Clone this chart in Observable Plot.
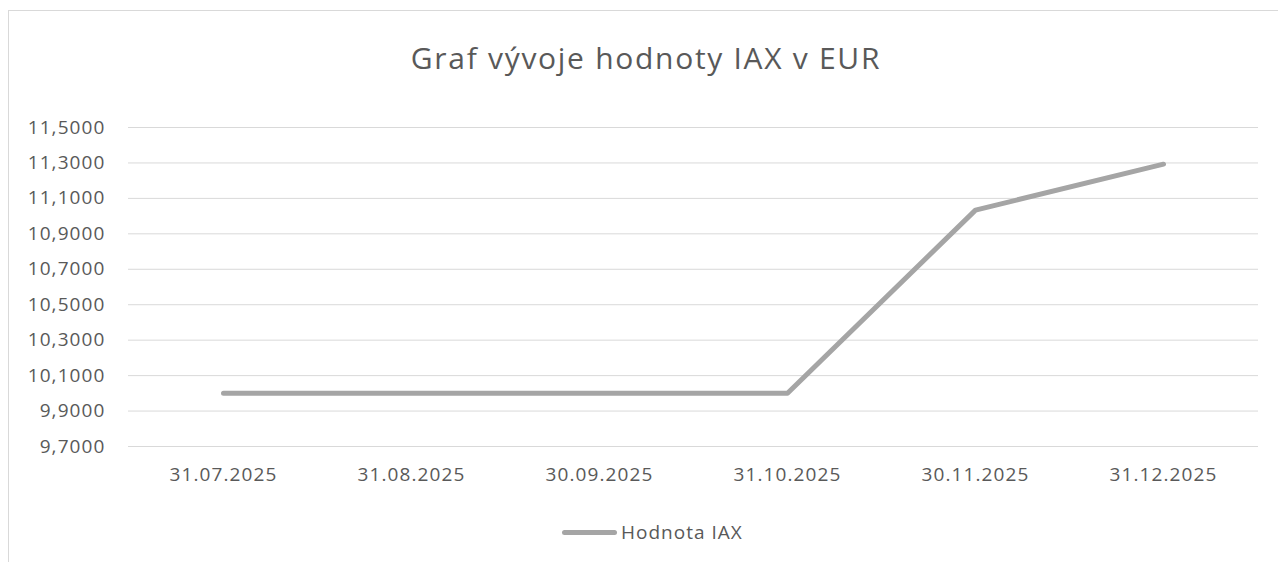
<!DOCTYPE html>
<html><head><meta charset="utf-8">
<script src="https://cdn.jsdelivr.net/npm/d3@7"></script>
<script src="https://cdn.jsdelivr.net/npm/@observablehq/plot@0.6"></script>
<style>
body{margin:0;background:#fff;font-family:"Open Sans",sans-serif;}
#wrap{position:relative;width:1278px;height:562px;overflow:hidden;}
#frame{position:absolute;left:8px;top:10px;width:1300px;height:600px;border:1px solid #d9d9d9;box-sizing:border-box;}
#title{position:absolute;left:7px;width:1278px;top:38px;text-align:center;font-size:30px;letter-spacing:1.7px;color:#595959;line-height:40px;}
#chart{position:absolute;left:0;top:0;}
#legend{position:absolute;left:562px;top:518px;display:flex;align-items:center;font-size:19px;letter-spacing:1px;color:#595959;line-height:28px;}
#legend .sw{width:55px;height:5px;border-radius:3px;background:#a5a5a5;margin-right:4px;}
svg text{letter-spacing:1.1px;}
</style></head>
<body>
<div id="wrap">
<div id="frame"></div>
<div id="chart"></div>
<div id="title">Graf vývoje hodnoty IAX v EUR</div>
<div id="legend"><span class="sw"></span><span>Hodnota IAX</span></div>
</div>
<script>
const dates = ["31.07.2025","31.08.2025","30.09.2025","31.10.2025","30.11.2025","31.12.2025"];
const values = [10.0, 10.0, 10.0, 10.0, 11.034, 11.293];
const yTicks = [9.7, 9.9, 10.1, 10.3, 10.5, 10.7, 10.9, 11.1, 11.3, 11.5];
const seriesName = "Hodnota IAX";

const data = dates.map((d, i) => ({date: d, value: values[i]}));
const fmt = v => v.toFixed(4).replace(".", ",");

const chart = Plot.plot({
  width: 1278,
  height: 562,
  marginLeft: 128,
  marginRight: 20,
  marginTop: 127,
  marginBottom: 116,
  style: {fontFamily: "'Open Sans', sans-serif", fontSize: "19px", color: "#595959", background: "transparent"},
  x: {type: "point", domain: dates, padding: 0.5, label: null},
  y: {domain: [9.7, 11.5], label: null},
  marks: [
    Plot.gridY(yTicks, {stroke: "#d9d9d9", strokeOpacity: 1, strokeWidth: 1}),
    Plot.axisY(yTicks, {tickSize: 0, tickPadding: 23, tickFormat: fmt, label: null, fill: "#595959", fontSize: 19}),
    Plot.axisX(dates, {tickSize: 0, tickPadding: 21, label: null, fill: "#595959", fontSize: 19}),
    Plot.line(data, {x: "date", y: "value", stroke: "#a5a5a5", strokeWidth: 5, strokeLinecap: "round", strokeLinejoin: "round"})
  ]
});
document.getElementById("chart").appendChild(chart);
</script>
</body></html>
